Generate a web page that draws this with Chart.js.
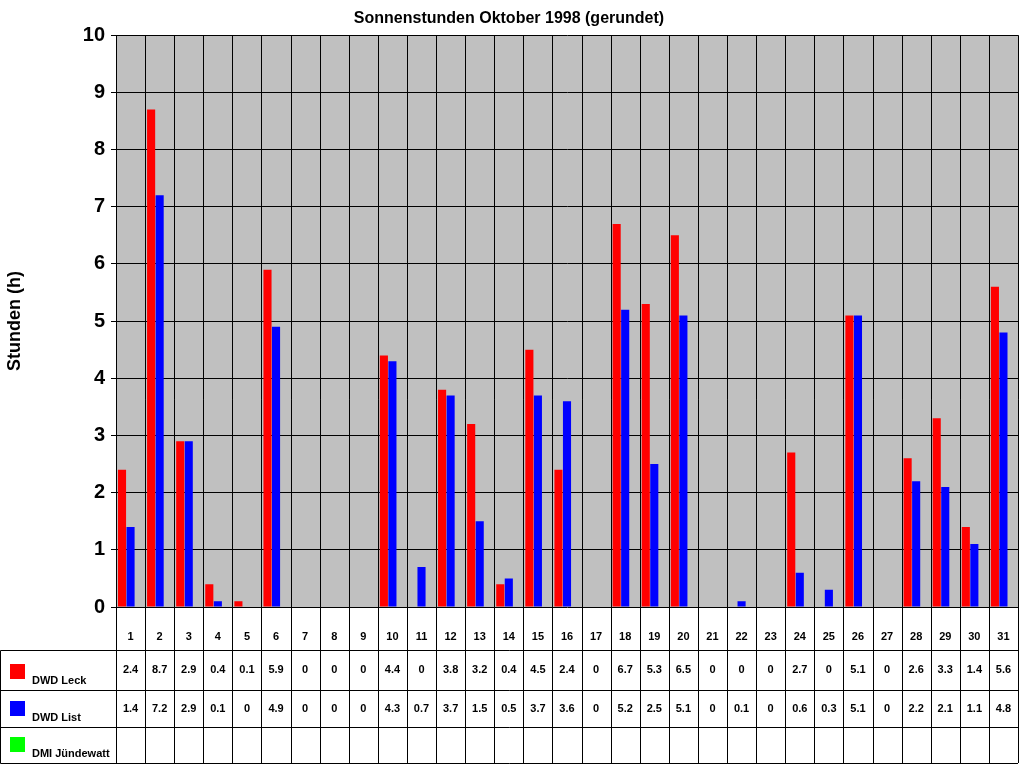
<!DOCTYPE html>
<html><head><meta charset="utf-8">
<script src="https://cdn.jsdelivr.net/npm/chart.js@4/dist/chart.umd.min.js"></script>
<style>html,body{margin:0;padding:0;background:#fff}#wrap{width:1024px;height:768px}</style>
</head><body><div id="wrap"><canvas id="c" width="1024" height="768"></canvas></div>
<script>
const days = ["1","2","3","4","5","6","7","8","9","10","11","12","13","14","15","16","17","18","19","20","21","22","23","24","25","26","27","28","29","30","31"];
const leck = [2.4,8.7,2.9,0.4,0.1,5.9,0,0,0,4.4,0,3.8,3.2,0.4,4.5,2.4,0,6.7,5.3,6.5,0,0,0,2.7,0,5.1,0,2.6,3.3,1.4,5.6];
const list = [1.4,7.2,2.9,0.1,0,4.9,0,0,0,4.3,0.7,3.7,1.5,0.5,3.7,3.6,0,5.2,2.5,5.1,0,0.1,0,0.6,0.3,5.1,0,2.2,2.1,1.1,4.8];
const dmi = [];
const seriesNames = ["DWD Leck","DWD List","DMI Jündewatt"];
const seriesColors = ["#FF0000","#0000FF","#00FF00"];
const seriesData = [leck, list, dmi];

const tablePlugin = {
  id:'tbl',
  beforeDraw(chart){
    const {ctx, chartArea:a} = chart;
    ctx.save(); ctx.fillStyle='#C0C0C0'; ctx.fillRect(a.left,a.top,a.right-a.left,a.bottom-a.top); ctx.restore();
  },
  afterDatasetsDraw(chart){
    const {ctx, chartArea:a} = chart;
    const x = chart.scales.x;
    const n = days.length, w = (a.right-a.left)/n;
    ctx.save();
    ctx.strokeStyle='#000'; ctx.lineWidth=1;
    // vertical grid in plot
    for(let i=0;i<=n;i++){const xx=Math.round(a.left+i*w)+0.5;ctx.beginPath();ctx.moveTo(xx,a.top);ctx.lineTo(xx,763);ctx.stroke();}
    const rows=[650,690,727,763];
    ctx.beginPath();ctx.moveTo(0.5,650.5);ctx.lineTo(a.right,650.5);ctx.stroke();
    ctx.beginPath();ctx.moveTo(0.5,690.5);ctx.lineTo(a.right,690.5);ctx.stroke();
    ctx.beginPath();ctx.moveTo(0.5,727.5);ctx.lineTo(a.right,727.5);ctx.stroke();
    ctx.beginPath();ctx.moveTo(0.5,763.5);ctx.lineTo(a.right,763.5);ctx.stroke();
    ctx.beginPath();ctx.moveTo(0.5,650.5);ctx.lineTo(0.5,763.5);ctx.stroke();
    ctx.beginPath();ctx.moveTo(a.left+0.5,a.bottom);ctx.lineTo(a.left+0.5,763.5);ctx.stroke();
    ctx.font='bold 11px Arial, "Liberation Sans", sans-serif';
    ctx.fillStyle='#000'; ctx.textAlign='center'; ctx.textBaseline='alphabetic';
    days.forEach((d,i)=>ctx.fillText(d, x.getPixelForValue(i), 640));
    seriesData.forEach((arr,r)=>{
      const yb = rows[r+1]-6;
      ctx.fillStyle=seriesColors[r]; ctx.fillRect(10, yb-20, 15, 15);
      ctx.fillStyle='#000'; ctx.textAlign='left'; ctx.fillText(seriesNames[r], 32, yb);
      ctx.textAlign='center';
      arr.forEach((v,i)=>ctx.fillText(String(v), x.getPixelForValue(i), rows[r]+(rows[r+1]-rows[r])/2+3));
    });
    ctx.restore();
  }
};

new Chart(document.getElementById('c'), {
  type:'bar',
  data:{labels:days, datasets:seriesData.map((d,i)=>({label:seriesNames[i], data:d, backgroundColor:seriesColors[i], borderWidth:0}))},
  options:{
    responsive:false, animation:false,
    layout:{padding:{left:0,right:6,top:0,bottom:161}},
    categoryPercentage:0.88, barPercentage:0.95,
    plugins:{legend:{display:false}, tooltip:{enabled:false},
      title:{display:true,text:'Sonnenstunden Oktober 1998 (gerundet)',color:'#000',font:{family:'Arial, "Liberation Sans"',size:16,weight:'bold'},padding:{top:9,bottom:7}}},
    scales:{
      x:{display:false},
      y:{min:0,max:10,ticks:{stepSize:1,color:'#000',font:{family:'Arial, "Liberation Sans"',size:20,weight:'bold'},padding:6},
        grid:{color:'#000',drawTicks:true,tickLength:5},border:{color:'#000'},
        title:{display:true,text:'Stunden (h)',color:'#000',font:{family:'Arial, "Liberation Sans"',size:18,weight:'bold'}},
        afterFit(s){s.width=116;}}
    }
  },
  plugins:[tablePlugin]
});
</script></body></html>
